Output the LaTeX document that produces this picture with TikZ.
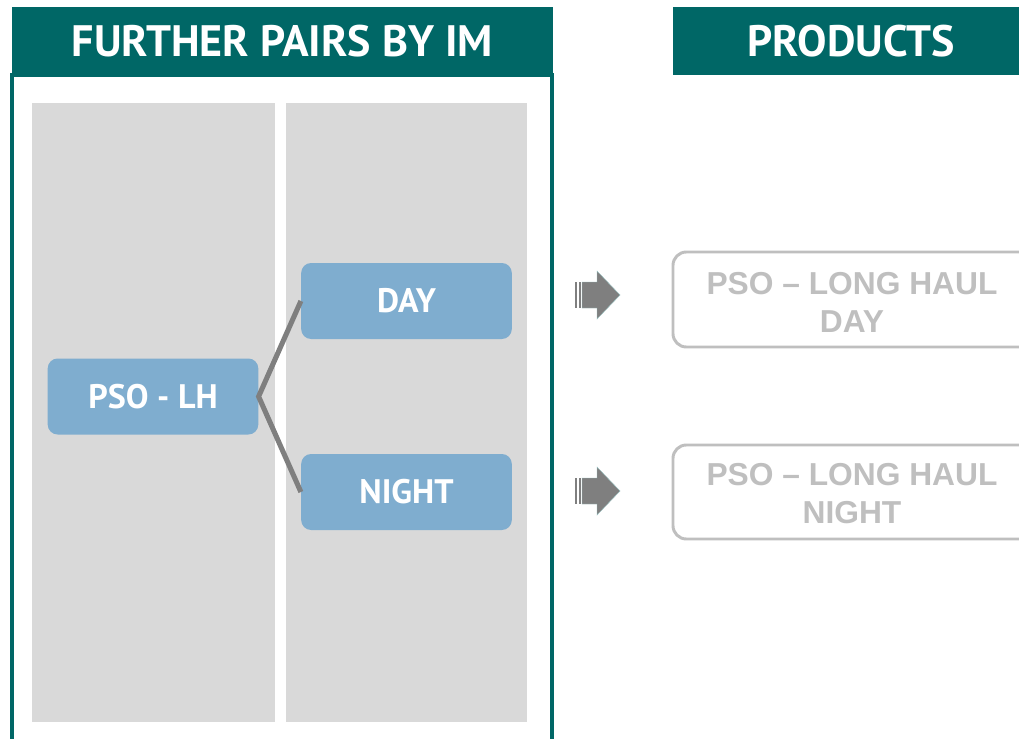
\documentclass[tikz,border=0pt]{standalone}
\usepackage{fontspec}
\setmainfont{PT Sans}
\newfontfamily\arialfont{Liberation Sans}
\definecolor{headteal}{HTML}{006766}
\definecolor{colgray}{HTML}{D9D9D9}
\definecolor{nodeblue}{HTML}{7FADCF}
\definecolor{linkgray}{HTML}{7F7F7F}
\definecolor{prodgray}{HTML}{BFBFBF}
\tikzset{
  headfont/.style={font=\bfseries\fontsize{33}{37}\selectfont},
  header/.style={fill=headteal, draw=none, text=white, inner sep=0pt, minimum height=52pt, headfont},
  column/.style={fill=colgray, draw=none},
  pairbox/.style={fill=nodeblue, draw=none, rounded corners=7.5pt, text=white,
    font=\bfseries\fontsize{25.5}{29}\selectfont, minimum width=158pt, minimum height=57pt, inner sep=0pt},
  prodbox/.style={draw=prodgray, line width=2.2pt, rounded corners=10pt},
  prodtext/.style={text=prodgray, align=center, font=\arialfont\bfseries\fontsize{23.8}{28.5}\selectfont},
  link/.style={draw=linkgray, line width=3.8pt},
  blockarrow/.style={fill=linkgray, draw=headteal!40, line width=0.3pt},
}
\begin{document}
\begin{tikzpicture}[x=0.75pt, y=-0.75pt]
  \useasboundingbox (0,0) rectangle (1019,738);
  \fill[white] (0,0) rectangle (1019,738);

  % left panel: frame, header and the two grey columns
  \draw[headteal, line width=3pt] (12,740) -- (12,75) -- (552,75) -- (552,740);
  \node[header, minimum width=406pt] (hleft) at (282.5,41.5) {FURTHER PAIRS BY IM};
  \fill[column] (32,103) rectangle (275,722);
  \fill[column] (286,103) rectangle (527,722);

  % right header, running past the edge
  \fill[headteal] (673,7.5) rectangle (1025,75.5);
  \node[text=white, inner sep=0pt, headfont] (hright) at (851,41.5) {PRODUCTS};

  % split of the long-haul pair
  \node[pairbox] (lh) at (153,396.5) {PSO - LH};
  \node[pairbox] (day) at (406.5,301) {DAY};
  \node[pairbox] (night) at (406.5,492) {NIGHT};
  \draw[link] (day.west) -- (lh.east) -- (night.west);

  % block arrows towards the products
  \foreach \yy/\nm in {295/arrA, 491/arrB}{
    \fill[linkgray] (575,\yy-13) rectangle (577,\yy+13);
    \fill[linkgray] (578.5,\yy-13) rectangle (580.5,\yy+13);
    \draw[blockarrow] (582,\yy-13) -- (597,\yy-13) -- (597,\yy-24) -- (620,\yy)
      -- (597,\yy+24) -- (597,\yy+13) -- (582,\yy+13) -- cycle;
    \coordinate (\nm) at (620,\yy);
  }

  % product boxes, open past the right edge
  \draw[prodbox] (1030,252) -- (673,252) -- (673,347) -- (1030,347);
  \draw[prodbox] (1030,445) -- (673,445) -- (673,539) -- (1030,539);
  \node[prodtext] (pday) at (852,302) {PSO – LONG HAUL\\DAY};
  \node[prodtext] (pnight) at (852,494) {PSO – LONG HAUL\\NIGHT};
\end{tikzpicture}
\end{document}
